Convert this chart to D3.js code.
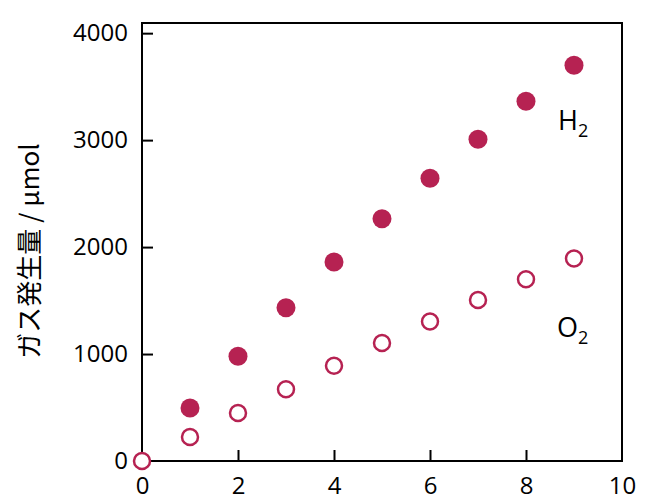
<!DOCTYPE html>
<html>
<head>
<meta charset="utf-8">
<script src="https://cdn.jsdelivr.net/npm/d3@7"></script>
<style>
  body { margin: 0; background: #fff; }
  text { font-family: "Open Sans", "Noto Sans", sans-serif; }
</style>
</head>
<body>
<script>
// reaction time (x) and gas amounts (umol)
const times = [0, 1, 2, 3, 4, 5, 6, 7, 8, 9]
const h2Values = [null, 495, 980, 1432, 1860, 2265, 2643, 3009, 3364, 3700]
const o2Values = [0, 224, 449, 671, 890, 1103, 1304, 1505, 1699, 1893]
const xTicks = [0, 2, 4, 6, 8, 10]
const yTicks = [0, 1000, 2000, 3000, 4000]

const m = { width: 649, height: 504 }
const frame = { left: 142, right: 622, top: 23, bottom: 461 }
const red = '#b62252'

const svg = d3.select('body').append('svg')
    .attr('width', m.width)
    .attr('height', m.height)

//scales
const x = d3.scaleLinear().domain([0, 10]).range([frame.left, frame.right])
const y = d3.scaleLinear().domain([0, 4095]).range([frame.bottom, frame.top])

//frame box
svg.append('rect')
    .attr('x', frame.left)
    .attr('y', frame.top)
    .attr('width', frame.right - frame.left)
    .attr('height', frame.bottom - frame.top)
    .attr('fill', 'none')
    .attr('stroke', 'black')
    .attr('stroke-width', 2)

//x axis, ticks pointing inward
const xAxis = svg.append('g')
    .attr('transform', `translate(0,${frame.bottom})`)
    .call(d3.axisBottom(x).tickValues(xTicks).tickFormat(d3.format('d'))
        .tickSizeInner(-11).tickSizeOuter(0).tickPadding(16))
xAxis.select('.domain').remove()
xAxis.selectAll('line').attr('stroke-width', 2)
    .filter(d => d === 0 || d === 10).remove()
xAxis.selectAll('text').attr('font-size', '24px').attr('fill', 'black')

//y axis
const yAxis = svg.append('g')
    .attr('transform', `translate(${frame.left},0)`)
    .call(d3.axisLeft(y).tickValues(yTicks).tickFormat(d3.format('d'))
        .tickSizeInner(-11).tickSizeOuter(0).tickPadding(14))
yAxis.select('.domain').remove()
yAxis.selectAll('line').attr('stroke-width', 2)
    .filter(d => d === 0).remove()
yAxis.selectAll('text').attr('font-size', '24px').attr('fill', 'black')

//y label
svg.append('text')
    .attr('transform', 'translate(39,251) rotate(-90)')
    .attr('text-anchor', 'middle')
    .attr('font-size', '26px')
    .style('font-family', '"Noto Sans CJK JP", "Open Sans", sans-serif')
    .text('ガス発生量 / μmol')

//H2 points (filled)
svg.selectAll('.h2')
    .data(times.map((t, i) => ({ t: t, v: h2Values[i] })).filter(d => d.v !== null))
    .enter()
    .append('circle')
        .attr('class', 'h2')
        .attr('cx', d => x(d.t))
        .attr('cy', d => y(d.v))
        .attr('r', 9.5)
        .attr('fill', red)

//O2 points (open)
svg.selectAll('.o2')
    .data(times.map((t, i) => ({ t: t, v: o2Values[i] })))
    .enter()
    .append('circle')
        .attr('class', 'o2')
        .attr('cx', d => x(d.t))
        .attr('cy', d => y(d.v))
        .attr('r', 8)
        .attr('fill', 'white')
        .attr('stroke', red)
        .attr('stroke-width', 2.5)

//series labels
function gasLabel(name, px, py) {
    const t = svg.append('text')
        .attr('x', px)
        .attr('y', py)
        .attr('font-size', '27px')
    t.append('tspan').text(name)
    t.append('tspan').attr('dy', 7).attr('font-size', '18px').text('2')
}
gasLabel('H', 558, 130)
gasLabel('O', 557, 337)
</script>
</body>
</html>
